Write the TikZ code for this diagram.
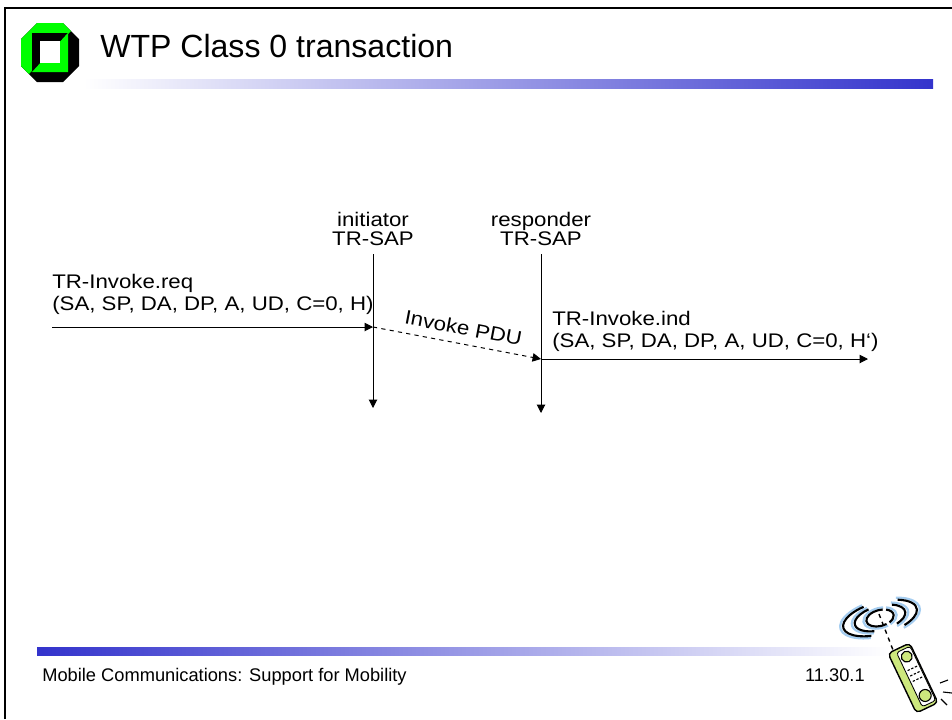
\documentclass[tikz,border=0pt]{standalone}
\usepackage{fontspec}
\setmainfont{Liberation Sans}
\newfontfamily\labelfont[FakeStretch=1.13]{Liberation Sans}
\usetikzlibrary{arrows.meta}

\definecolor{barblue}{RGB}{51,51,204}
\definecolor{logogreen}{RGB}{0,255,0}
\definecolor{wave}{RGB}{165,205,240}
\definecolor{handset}{RGB}{205,232,125}

\tikzstyle{element}=[inner sep=0, align=left,
                     font=\labelfont\fontsize{14}{15}\selectfont]
\tikzstyle{sap}=[element, align=center, anchor=south,
                 font=\labelfont\fontsize{14}{13.5}\selectfont]
\tikzstyle{footer}=[inner sep=0, font=\fontsize{13}{15}\selectfont]
\tikzstyle{message}=[-{Triangle[length=6pt, width=6pt]}, line width=0.7pt]
\tikzstyle{timeline}=[message, shorten <=6pt]

\begin{document}
\begin{tikzpicture}[x=0.025cm, y=-0.025cm]
\useasboundingbox (0,0) rectangle (952,719);

%%%%%%%%%%%%%%%%%%
%%%%%%%%%%%%%%%%%%
\draw [line width=1.4pt] (5,719) -- (5,8) -- (952,8);

% logo
\fill [black] (37,23) -- (63,23) -- (79,39) -- (79,66) -- (63,82) -- (37,82) -- (21,66) -- (21,39) -- cycle;
\fill [logogreen] (37,23) -- (63,23) -- (71,31) -- (29,74) -- (21,66) -- (21,39) -- cycle;
\fill [black] (32,33) -- (68,33) -- (32,72) -- cycle;
\fill [logogreen] (68,33) -- (68,72) -- (32,72) -- cycle;
\fill [white] (40,41) rectangle (60,63);

\node (Title) at (100, 57) [anchor=base west, inner sep=0, font=\fontsize{22.8}{27}\selectfont] {WTP Class 0 transaction};

\shade [left color=white, middle color=barblue!35!white, right color=barblue] (83,79) rectangle (933,88);

%%%%%%%%%%%%%%%%%%
\node (initiator) at (373, 246) [sap] {initiator\\TR-SAP};

\node (responder) at (541, 246) [sap] {responder\\TR-SAP};

\coordinate (initiator_end) at (373, 408);

\coordinate (responder_end) at (541, 413);

%%%%%%%%%%%%%%%%%%
\node (req_Text) at (52, 310) [element, anchor=base west] {TR-Invoke.req\\(SA, SP, DA, DP, A, UD, C=0, H)};

\node (ind_Text) at (552, 347) [element, anchor=base west] {TR-Invoke.ind\\(SA, SP, DA, DP, A, UD, C=0, H‘)};

\coordinate (req_start) at (52, 327);

\coordinate (req_end) at (373, 327);

\coordinate (pdu_end) at (541, 359);

\coordinate (ind_end) at (868, 359);

%%%%%%%%%%%%%%%%%%%%
\draw [timeline] (initiator) to (initiator_end);

\draw [timeline] (responder) to (responder_end);

\draw [message] (req_start) to (req_end);

\draw [message, dashed] (req_end) to node [element, sloped, above=6pt, pos=0.52] {Invoke PDU} (pdu_end);

\draw [message] (pdu_end) to (ind_end);

%%%%%%%%%%%%%%%%%%%%
% footer
\shade [left color=barblue, middle color=barblue!35!white, right color=white] (37,647) rectangle (890,655);

\node (Footer) at (42, 681) [footer, anchor=base west] {Mobile Communications: Support for Mobility};

\node (Page) at (865, 681) [footer, anchor=base east] {11.30.1};

% handset with radio waves
\begin{scope}[shift={(880,618)}, rotate=15]
  \foreach \rx/\ry/\a in {14/8/70, 26/12/110, 38/16/110} {
    \draw [wave, line width=1.6pt] (0,0) ++({\a}:{\rx+3} and {\ry+2}) arc [start angle=\a, end angle=360-\a, x radius=\rx+3, y radius=\ry+2];
    \draw [wave, line width=1.6pt] (0,0) ++(-60:{\rx+3} and {\ry+2}) arc [start angle=-60, end angle=60, x radius=\rx+3, y radius=\ry+2];
    \draw [line width=1.5pt] (0,0) ++({\a}:{\rx} and {\ry}) arc [start angle=\a, end angle=360-\a, x radius=\rx, y radius=\ry];
    \draw [line width=1.5pt] (0,0) ++(-55:{\rx} and {\ry}) arc [start angle=-55, end angle=55, x radius=\rx, y radius=\ry];
  }
\end{scope}
\draw [dashed, line width=1pt] (879,614) -- (893,650);

\begin{scope}[shift={(913,678)}, rotate=25.4]
  \filldraw [fill=handset, line width=1pt, rounded corners=3pt] (-12,-33) rectangle (12,33);
  \filldraw [fill=white, line width=0.6pt, rounded corners=2pt] (-4,-30) rectangle (11,30);
  \filldraw [fill=handset, line width=0.8pt] (3.5,-22) circle [radius=5.5];
  \filldraw [fill=handset, line width=0.8pt] (3.5,21) circle [radius=6];
  \foreach \s in {-0.5,3.5,7.5}
    \foreach \t in {-9,-3,3}
      \draw [line width=0.8pt] (\s-1.2,\t) -- (\s+1.2,\t);
\end{scope}

\draw [line width=0.8pt] (940,683) -- (948,680);
\draw [line width=0.8pt] (943,692) -- (952,693);
\draw [line width=0.8pt] (941,699) -- (947,705);

\end{tikzpicture}
\end{document}
